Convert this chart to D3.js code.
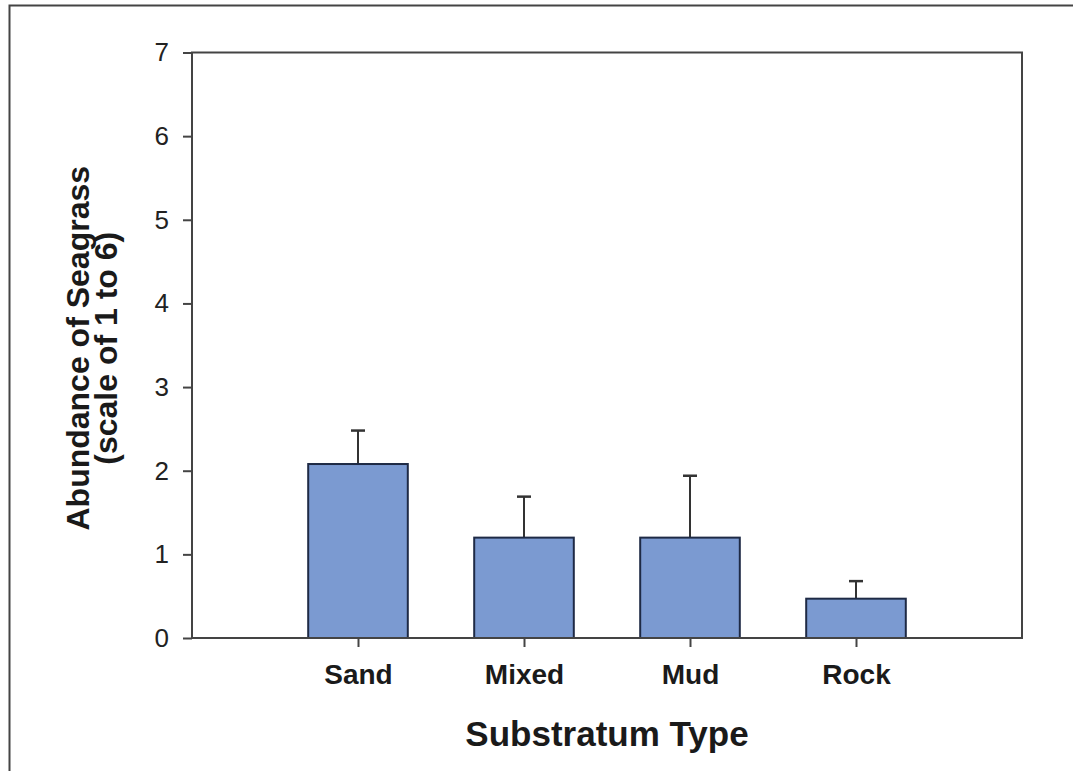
<!DOCTYPE html>
<html>
<head>
<meta charset="utf-8">
<script src="https://cdn.jsdelivr.net/npm/d3@7"></script>
<style>
  body { margin: 0; background: #fff; }
  svg { display: block; font-family: "Liberation Sans", Arial, sans-serif; }
</style>
</head>
<body>
<svg width="1074" height="771"></svg>
<script>
// data
var categories = ["Sand", "Mixed", "Mud", "Rock"];
var means      = [2.08, 1.20, 1.20, 0.47];
var errUpper   = [0.40, 0.49, 0.74, 0.21];
var yTicks     = [0, 1, 2, 3, 4, 5, 6, 7];

var margin = {top: 52.5, right: 52, bottom: 133, left: 192},
  width  = 1074 - margin.left - margin.right,
  height = 771 - margin.top - margin.bottom;

var svg = d3.select("svg");

// outer frame of the figure
svg.append("path")
  .attr("d", "M9.5,771 V5.5 H1073")
  .attr("fill", "none")
  .attr("stroke", "#444")
  .attr("stroke-width", 2);

var g = svg.append("g")
  .attr("transform", "translate(" + margin.left + "," + margin.top + ")");

// categories sit at 1..n, with one empty slot each side
var x = d3.scaleLinear().domain([0, categories.length + 1]).range([0, width]);
var y = d3.scaleLinear().domain([0, 7]).range([height, 0]);
var barW = (x(1) - x(0)) * 0.6;

var data = categories.map(function(c, i) {
  return {name: c, pos: i + 1, mean: means[i], err: errUpper[i]};
});

// error bars (upper only), drawn first so the bar covers the stem
var eb = g.append("g").attr("class", "errors");
eb.selectAll("line.stem")
  .data(data).enter().append("line")
  .attr("class", "stem")
  .attr("x1", function(d) { return x(d.pos); })
  .attr("x2", function(d) { return x(d.pos); })
  .attr("y1", function(d) { return y(d.mean); })
  .attr("y2", function(d) { return y(d.mean + d.err); })
  .attr("stroke", "#333").attr("stroke-width", 2);
eb.selectAll("line.cap")
  .data(data).enter().append("line")
  .attr("class", "cap")
  .attr("x1", function(d) { return x(d.pos) - 7; })
  .attr("x2", function(d) { return x(d.pos) + 7; })
  .attr("y1", function(d) { return y(d.mean + d.err); })
  .attr("y2", function(d) { return y(d.mean + d.err); })
  .attr("stroke", "#333").attr("stroke-width", 2.5);

// bars
g.append("g").selectAll("rect")
  .data(data).enter().append("rect")
  .attr("x", function(d) { return x(d.pos) - barW / 2; })
  .attr("width", barW)
  .attr("y", function(d) { return y(d.mean); })
  .attr("height", function(d) { return y(0) - y(d.mean); })
  .attr("fill", "#7b9ad1")
  .attr("stroke", "#1e2a45")
  .attr("stroke-width", 2);

// plot box
g.append("rect")
  .attr("width", width).attr("height", height)
  .attr("fill", "none")
  .attr("stroke", "#444").attr("stroke-width", 2);

// y axis
var yAxis = g.append("g")
  .call(d3.axisLeft(y).tickValues(yTicks).tickSize(9).tickPadding(14).tickFormat(d3.format("d")));
yAxis.select(".domain").remove();
yAxis.selectAll("line").attr("stroke", "#444").attr("stroke-width", 2);
yAxis.selectAll("text")
  .attr("fill", "#222")
  .style("font-size", "26px");

// x axis
var xAxis = g.append("g")
  .attr("transform", "translate(0," + height + ")")
  .call(d3.axisBottom(x).tickValues(data.map(function(d) { return d.pos; }))
    .tickSize(9).tickPadding(17)
    .tickFormat(function(i) { return categories[i - 1]; }));
xAxis.select(".domain").remove();
xAxis.selectAll("line").attr("stroke", "#444").attr("stroke-width", 2);
xAxis.selectAll("text")
  .attr("fill", "#1a1a1a")
  .style("font-size", "28px")
  .style("font-weight", "bold");

// axis titles
g.append("text")
  .attr("x", width / 2)
  .attr("y", height + 108)
  .attr("text-anchor", "middle")
  .attr("fill", "#1a1a1a")
  .style("font-size", "35px")
  .style("font-weight", "bold")
  .text("Substratum Type");

var yt = g.append("text")
  .attr("transform", "translate(" + (-103) + "," + (height / 2 + 3) + ") rotate(-90)")
  .attr("text-anchor", "middle")
  .attr("fill", "#1a1a1a")
  .style("font-size", "32px")
  .style("font-weight", "bold");
yt.append("tspan").attr("x", 0).attr("dy", 0).text("Abundance of Seagrass");
yt.append("tspan").attr("x", 0).attr("dy", 28).text("(scale of 1 to 6)");
</script>
</body>
</html>
